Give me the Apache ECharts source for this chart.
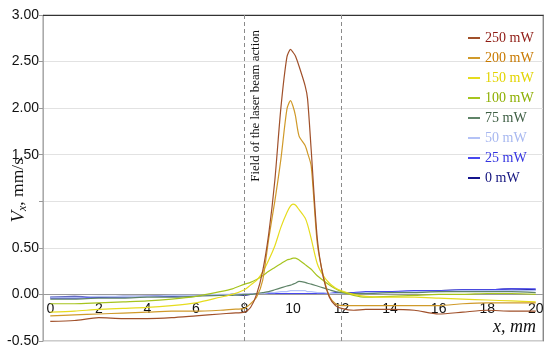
<!DOCTYPE html>
<html>
<head>
<meta charset="utf-8">
<script src="https://cdn.jsdelivr.net/npm/echarts@6/dist/echarts.min.js"></script>
<style>html,body{margin:0;padding:0;background:#fff;}#c{width:550px;height:353px;}</style>
</head>
<body>
<div id="c"></div>
<script>
// x positions (mm)
var xPos = [0,1,2,3,4,5,6,7,7.5,8,8.25,8.5,8.75,9,9.25,9.5,9.75,9.9,10,10.1,10.25,10.5,10.6,10.75,11,11.25,11.5,11.75,12,12.5,13,14,15,16,17,18,19,20];
var xTicks = [0,2,4,6,8,10,12,14,16,18,20];
var seriesNames = ['250 mW','200 mW','150 mW','100 mW','75 mW','50 mW','25 mW','0 mW'];
var v250 = [-0.29,-0.28,-0.25,-0.26,-0.26,-0.25,-0.23,-0.21,-0.20,-0.19,-0.14,0.0,0.25,0.65,1.22,2.0,2.55,2.63,2.6,2.56,2.45,2.24,2.1,1.55,0.6,0.18,-0.03,-0.12,-0.15,-0.17,-0.16,-0.16,-0.17,-0.21,-0.19,-0.17,-0.18,-0.18];
var v200 = [-0.23,-0.22,-0.21,-0.20,-0.19,-0.18,-0.18,-0.17,-0.16,-0.15,-0.10,-0.03,0.15,0.6,1.0,1.45,1.99,2.08,2.02,1.92,1.7,1.6,1.52,1.38,0.55,0.2,-0.02,-0.1,-0.12,-0.12,-0.12,-0.12,-0.12,-0.12,-0.10,-0.09,-0.09,-0.09];
var v150 = [-0.19,-0.18,-0.16,-0.15,-0.14,-0.12,-0.09,-0.03,0.0,0.05,0.1,0.15,0.24,0.37,0.52,0.72,0.88,0.95,0.97,0.96,0.91,0.82,0.75,0.6,0.33,0.2,0.12,0.07,0.04,0.0,-0.02,-0.03,-0.03,-0.04,-0.05,-0.06,-0.07,-0.08];
var v100 = [-0.10,-0.10,-0.09,-0.08,-0.07,-0.05,-0.02,0.03,0.06,0.11,0.13,0.16,0.2,0.25,0.29,0.33,0.37,0.38,0.39,0.39,0.37,0.32,0.3,0.27,0.2,0.15,0.1,0.06,0.03,-0.01,-0.03,-0.02,-0.01,0.0,0.0,0.01,0.01,0.0];
var v75 = [-0.05,-0.05,-0.04,-0.04,-0.03,-0.03,-0.02,-0.01,-0.01,0.0,0.0,0.01,0.02,0.03,0.05,0.07,0.09,0.10,0.11,0.12,0.14,0.13,0.12,0.11,0.09,0.07,0.05,0.03,0.02,0.01,0.01,0.02,0.02,0.03,0.03,0.03,0.03,0.02];
var v50 = [-0.03,-0.03,-0.02,-0.02,-0.02,-0.01,-0.01,0,0,0,0,0.01,0.01,0.02,0.02,0.03,0.03,0.04,0.04,0.04,0.04,0.04,0.03,0.03,0.02,0.02,0.01,0.01,0.01,0.01,0.02,0.02,0.03,0.03,0.04,0.04,0.04,0.04];
var v25 = [-0.04,-0.04,-0.03,-0.03,-0.02,-0.02,-0.01,-0.01,0,0,0,0,0,0.01,0.01,0.01,0.01,0.01,0.01,0.01,0.01,0.01,0.01,0.01,0.01,0.01,0.01,0.02,0.02,0.02,0.03,0.03,0.04,0.04,0.05,0.05,0.06,0.06];
var v0 = [-0.03,-0.02,-0.03,-0.02,-0.02,-0.01,-0.01,-0.01,0,-0.01,0,0,0,0,0,0,0,0,0,0,0,0,0,0,0,0.01,0.01,0.01,0.01,0.02,0.02,0.03,0.03,0.04,0.05,0.05,0.06,0.05];
var allValues = [v250,v200,v150,v100,v75,v50,v25,v0];
var lineColors = ['#A0502A','#D09A2A','#E6DC1E','#A6C41E','#5F8468','#B4C2F6','#4848F0','#14148C'];
var textColors = ['#8E1A12','#C87A00','#E2D400','#8EAE00','#3E5E44','#A8B8F0','#3434E0','#12127E'];

var chart = echarts.init(document.getElementById('c'), null, {renderer:'canvas'});

var series = seriesNames.map(function(name, i){
  return {
    name: name,
    type: 'line',
    xAxisIndex: 0, yAxisIndex: 0,
    data: xPos.map(function(x, j){ return [x, allValues[i][j]]; }),
    showSymbol: false,
    symbol: 'none',
    smooth: 0.25,
    lineStyle: {color: lineColors[i], width: 1.2},
    itemStyle: {color: lineColors[i]},
    z: 10 - i
  };
});
// reference lines: zero axis line and the laser field borders
series.push({
  type: 'line', data: [], xAxisIndex: 0, yAxisIndex: 0, z: 2,
  markLine: {
    silent: true, symbol: 'none', animation: false,
    label: {show: false},
    data: [
      {yAxis: 0, lineStyle: {color: '#9a9a9a', type: 'solid', width: 1}},
      {xAxis: 8, lineStyle: {color: '#8a8a8a', type: [4,3], width: 1},
        label: {show: true, position: 'insideEndBottom', distance: [15, 5],
          formatter: 'Field of the laser beam action',
          fontFamily: 'Liberation Serif', fontSize: 12.8, color: '#111'}},
      {xAxis: 12, lineStyle: {color: '#8a8a8a', type: [4,3], width: 1}}
    ]
  }
});

var option = {
  animation: false,
  backgroundColor: '#fff',
  grid: {left: 43, right: 7, top: 15, bottom: 12, show: true, borderColor: '#999', borderWidth: 1},
  legend: {
    orient: 'vertical', left: 468, top: 30, itemGap: 4, padding: 0,
    itemWidth: 12, itemHeight: 2, icon: 'rect',
    textStyle: {fontFamily: 'Liberation Serif', fontSize: 14, lineHeight: 16},
    data: seriesNames.map(function(n, i){ return {name: n, textStyle: {color: textColors[i]}}; })
  },
  xAxis: [{
    type: 'value', min: -0.3, max: 20.3,
    axisLine: {show: false, onZero: false},
    axisTick: {show: false},
    axisLabel: {customValues: xTicks, margin: -39, fontFamily: 'Liberation Sans', fontSize: 14, color: '#111'},
    splitLine: {show: false}
  }, {
    type: 'value', min: -0.3, max: 20.3, position: 'top',
    axisLine: {show: true, onZero: false, lineStyle: {color: '#333', width: 1.2}},
    axisTick: {show: false}, axisLabel: {show: false}, splitLine: {show: false}
  }],
  yAxis: [{
    type: 'value', min: -0.5, max: 3, interval: 0.5,
    axisLine: {show: true, onZero: false, lineStyle: {color: '#aaa', width: 1}},
    axisTick: {show: true, length: 4, lineStyle: {color: '#999'}},
    axisLabel: {margin: 4, fontFamily: 'Liberation Sans', fontSize: 14, color: '#111',
      formatter: function(v){ return Math.abs(v - 1) < 1e-9 ? '' : v.toFixed(2); }},
    splitLine: {show: true, lineStyle: {color: '#e2e2e2', width: 1}}
  }, {
    type: 'value', min: -0.5, max: 3, interval: 0.5, position: 'right',
    axisLine: {show: true, onZero: false, lineStyle: {color: '#888', width: 1}},
    axisTick: {show: false}, axisLabel: {show: false}, splitLine: {show: false}
  }],
  graphic: [{
    type: 'text', left: 9, top: 158, rotation: Math.PI / 2,
    style: {
      text: '{v|V}{s|x}{n|, mm/s}',
      rich: {
        v: {fontFamily: 'Liberation Serif', fontStyle: 'italic', fontSize: 19, fill: '#111'},
        s: {fontFamily: 'Liberation Serif', fontStyle: 'italic', fontSize: 12, fill: '#111', verticalAlign: 'bottom', padding: [8, 0, 0, 0]},
        n: {fontFamily: 'Liberation Serif', fontSize: 17.5, fill: '#111'}
      }
    }
  }, {
    type: 'text', right: 14, top: 318,
    style: {text: 'x, mm', fontFamily: 'Liberation Serif', fontStyle: 'italic', fontSize: 18, fill: '#111'}
  }],
  series: series
};
chart.setOption(option);
</script>
</body>
</html>
